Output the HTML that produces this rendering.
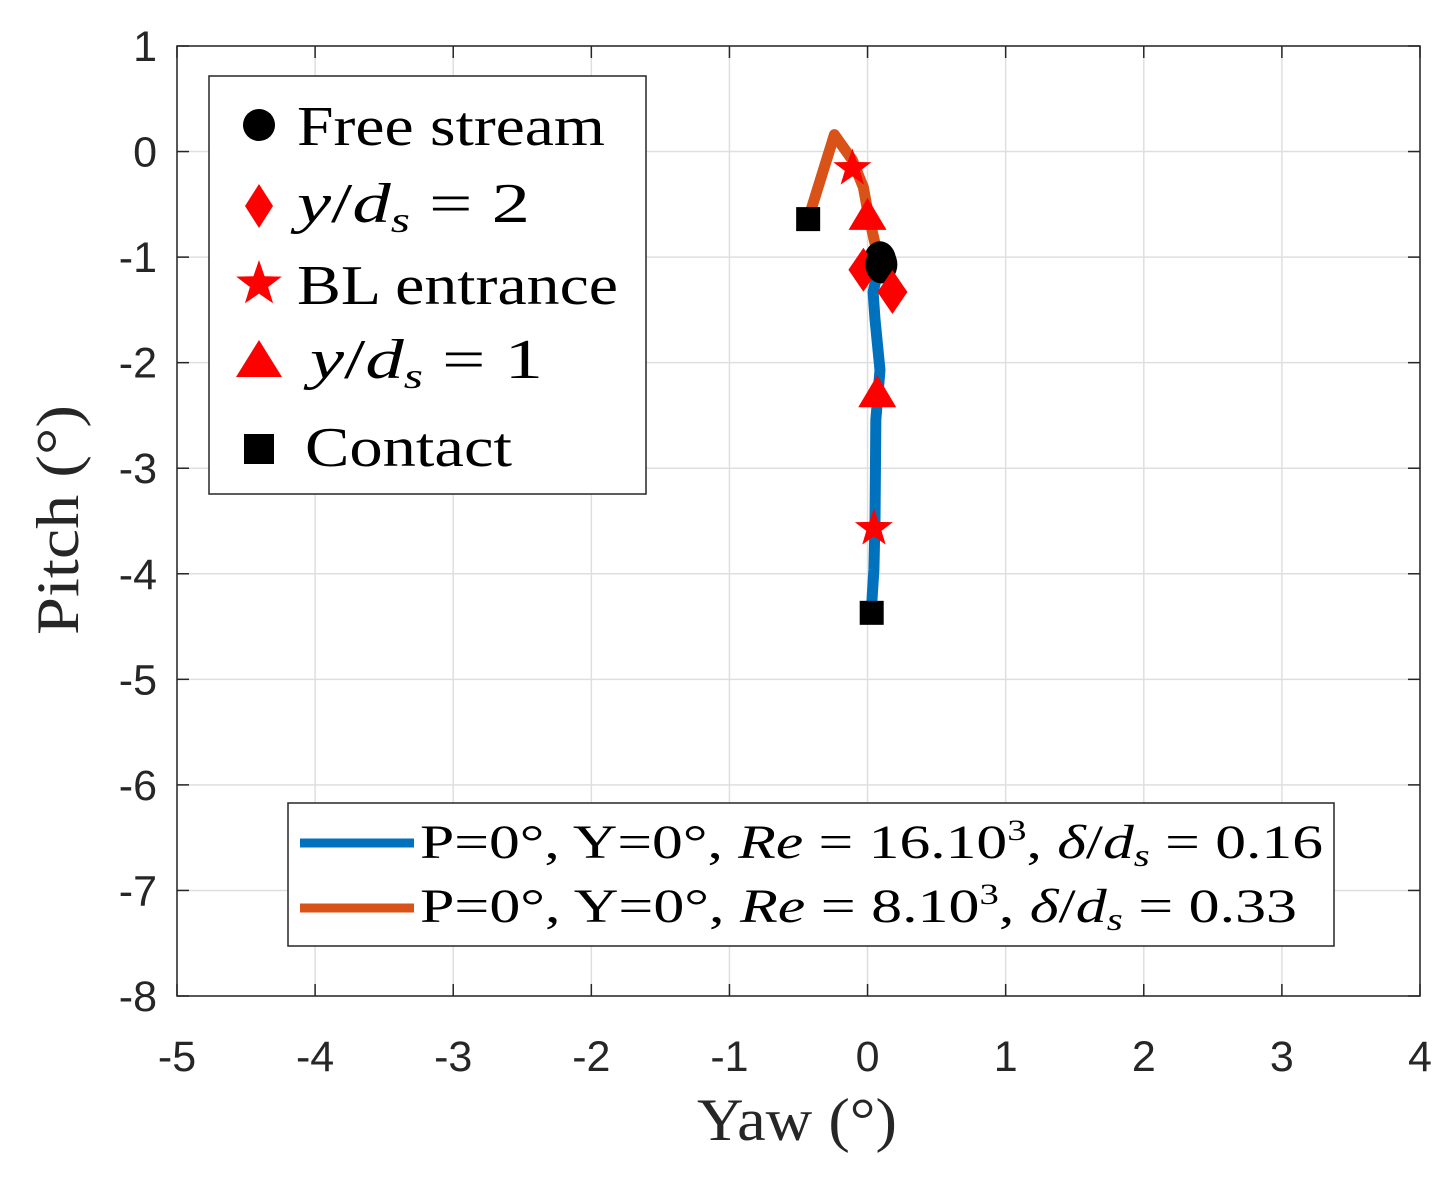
<!DOCTYPE html>
<html><head><meta charset="utf-8"><style>
body{margin:0;background:#fff;}
svg{display:block;}
.tk{font-family:"Liberation Sans",sans-serif;font-size:43px;fill:#262626;}
.lb{font-family:"Liberation Serif",serif;font-size:60px;fill:#262626;}
.lg{font-family:"Liberation Serif",serif;font-size:56px;fill:#000;}
.lg2{font-family:"Liberation Serif",serif;font-size:48px;fill:#000;}
</style></head><body>
<svg id="chart" width="1456" height="1178" viewBox="0 0 1456 1178" xmlns="http://www.w3.org/2000/svg">
<g id="grid"></g>
<g id="series"></g>
<g id="axes"></g>
<text class="lb" x="697" y="1140" textLength="200" lengthAdjust="spacingAndGlyphs">Yaw (°)</text>
<text class="lb" transform="translate(78,635) rotate(-90)" textLength="230" lengthAdjust="spacingAndGlyphs">Pitch (°)</text>
<g>
<rect x="209" y="76" width="437" height="418" fill="#fff" stroke="#262626" stroke-width="1.5"/>
<circle cx="259" cy="125" r="16" fill="#000"/>
<text class="lg" x="297" y="145" textLength="308" lengthAdjust="spacingAndGlyphs">Free stream</text>
<polygon points="259,184 273,206 259,228 245,206" fill="#f00"/>
<text class="lg" x="297" y="222" textLength="233" lengthAdjust="spacingAndGlyphs"><tspan font-style="italic">y</tspan>/<tspan font-style="italic">d</tspan><tspan font-style="italic" font-size="36" dy="10">s</tspan><tspan dy="-10"> = 2</tspan></text>
<polygon id="legstar" fill="#f00" points=""/>
<text class="lg" x="297" y="304" textLength="321" lengthAdjust="spacingAndGlyphs">BL entrance</text>
<polygon points="259,340 282,377 236,377" fill="#f00"/>
<text class="lg" x="310" y="378" textLength="233" lengthAdjust="spacingAndGlyphs"><tspan font-style="italic">y</tspan>/<tspan font-style="italic">d</tspan><tspan font-style="italic" font-size="36" dy="10">s</tspan><tspan dy="-10"> = 1</tspan></text>
<rect x="244" y="434" width="30" height="30" fill="#000"/>
<text class="lg" x="305" y="466" textLength="207" lengthAdjust="spacingAndGlyphs">Contact</text>
</g>
<g>
<rect x="288" y="803" width="1046" height="143" fill="#fff" stroke="#262626" stroke-width="1.5"/>
<line x1="300" y1="843" x2="414" y2="843" stroke="#0072bd" stroke-width="9"/>
<text class="lg2" x="420" y="858" textLength="903" lengthAdjust="spacingAndGlyphs">P=0°, Y=0°, <tspan font-style="italic">Re</tspan> = 16.10<tspan font-size="30" dy="-18">3</tspan><tspan dy="18">, </tspan><tspan font-style="italic">δ</tspan>/<tspan font-style="italic">d</tspan><tspan font-style="italic" font-size="32" dy="8">s</tspan><tspan dy="-8"> = 0.16</tspan></text>
<line x1="300" y1="908" x2="414" y2="908" stroke="#d95319" stroke-width="9"/>
<text class="lg2" x="420" y="922" textLength="877" lengthAdjust="spacingAndGlyphs">P=0°, Y=0°, <tspan font-style="italic">Re</tspan> = 8.10<tspan font-size="30" dy="-18">3</tspan><tspan dy="18">, </tspan><tspan font-style="italic">δ</tspan>/<tspan font-style="italic">d</tspan><tspan font-style="italic" font-size="32" dy="8">s</tspan><tspan dy="-8"> = 0.33</tspan></text>
</g>
</svg>
<script>
const xTicks=[-5,-4,-3,-2,-1,0,1,2,3,4];
const yTicks=[1,0,-1,-2,-3,-4,-5,-6,-7,-8];
const blueX=[0.09,0.04,0.054,0.09,0.06,0.054,0.046,0.03];
const blueY=[-1.055,-1.33,-1.59,-2.07,-2.54,-3.49,-3.96,-4.29];
const orangeX=[-0.43,-0.24,-0.11,-0.03,0.003,0.054,0.075];
const orangeY=[-0.64,0.16,-0.08,-0.34,-0.58,-0.87,-1.03];
// markers: [freestream, y/ds=2, BL entrance, y/ds=1, contact]
const blueMarkX=[0.10,0.18,0.046,0.07,0.03];
const blueMarkY=[-1.07,-1.33,-3.57,-2.28,-4.37];
const orangeMarkX=[0.09,-0.03,-0.11,0.0,-0.43];
const orangeMarkY=[-1.03,-1.12,-0.16,-0.6,-0.64];

const L=177,R=1420,T=46,B=996;
const sx=v=>L+(v+5)/9*(R-L);
const sy=v=>T+(1-v)/9*(B-T);
const NS='http://www.w3.org/2000/svg';
function mk(tag,attrs,parent){const e=document.createElementNS(NS,tag);for(const k in attrs)e.setAttribute(k,attrs[k]);parent.appendChild(e);return e;}
const grid=document.getElementById('grid'),axes=document.getElementById('axes'),ser=document.getElementById('series');
xTicks.forEach(t=>{
 const g=mk('line',{x1:sx(t),x2:sx(t),y1:T,y2:B,stroke:'#dfdfdf','stroke-width':1.5},grid);
 
 
 mk('line',{x1:sx(t),x2:sx(t),y1:B,y2:B-12,stroke:'#262626','stroke-width':1.5},axes);
 mk('line',{x1:sx(t),x2:sx(t),y1:T,y2:T+12,stroke:'#262626','stroke-width':1.5},axes);
 const tx=mk('text',{x:sx(t),y:1071,'text-anchor':'middle',class:'tk'},axes);
 tx.textContent=t;
 
 
});
yTicks.forEach(t=>{
 const g=mk('line',{x1:L,x2:R,y1:sy(t),y2:sy(t),stroke:'#dfdfdf','stroke-width':1.5},grid);
 
 
 mk('line',{x1:L,x2:L+12,y1:sy(t),y2:sy(t),stroke:'#262626','stroke-width':1.5},axes);
 mk('line',{x1:R,x2:R-12,y1:sy(t),y2:sy(t),stroke:'#262626','stroke-width':1.5},axes);
 const tx=mk('text',{x:157,y:sy(t)+15,'text-anchor':'end',class:'tk'},axes);
 tx.textContent=t;
 
 
});
mk('rect',{x:L,y:T,width:R-L,height:B-T,fill:'none',stroke:'#262626','stroke-width':1.5},axes);
function line(xs,ys,c,name){
 const p=mk('polyline',{points:xs.map((x,i)=>sx(x)+','+sy(ys[i])).join(' '),fill:'none',stroke:c,'stroke-width':11,'stroke-linejoin':'round','stroke-linecap':'round'},ser);
 
 
}
line(orangeX,orangeY,'#d95319','orange-line');
line(blueX,blueY,'#0072bd','blue-line');
function star(cx,cy,r){let s=[];for(let i=0;i<10;i++){const a=-Math.PI/2+i*Math.PI/5,rr=i%2?r*0.4:r;s.push((cx+rr*Math.cos(a)).toFixed(1)+','+(cy+rr*Math.sin(a)).toFixed(1));}return s.join(' ');}
document.getElementById('legstar').setAttribute('points',star(259,284,24));
function markers(xs,ys,name){
 const names=['freestream','ds2','bl','ds1','contact'];
 xs.forEach((x,i)=>{
  const cx=sx(x),cy=sy(ys[i]);let e;
  if(i==0)e=mk('ellipse',{cx:cx,cy:cy,rx:16,ry:19,fill:'#000'},ser);
  else if(i==1)e=mk('polygon',{points:`${cx},${cy-22} ${cx+15},${cy} ${cx},${cy+22} ${cx-15},${cy}`,fill:'#f00'},ser);
  else if(i==2)e=mk('polygon',{points:star(cx,cy,20),fill:'#f00'},ser);
  else if(i==3)e=mk('polygon',{points:`${cx},${cy-17} ${cx+19},${cy+15} ${cx-19},${cy+15}`,fill:'#f00'},ser);
  else e=mk('rect',{x:cx-12,y:cy-12,width:24,height:24,fill:'#000'},ser);
  
  
 });
}
markers(orangeMarkX,orangeMarkY,'orange');
markers(blueMarkX,blueMarkY,'blue');
</script>
</body></html>
